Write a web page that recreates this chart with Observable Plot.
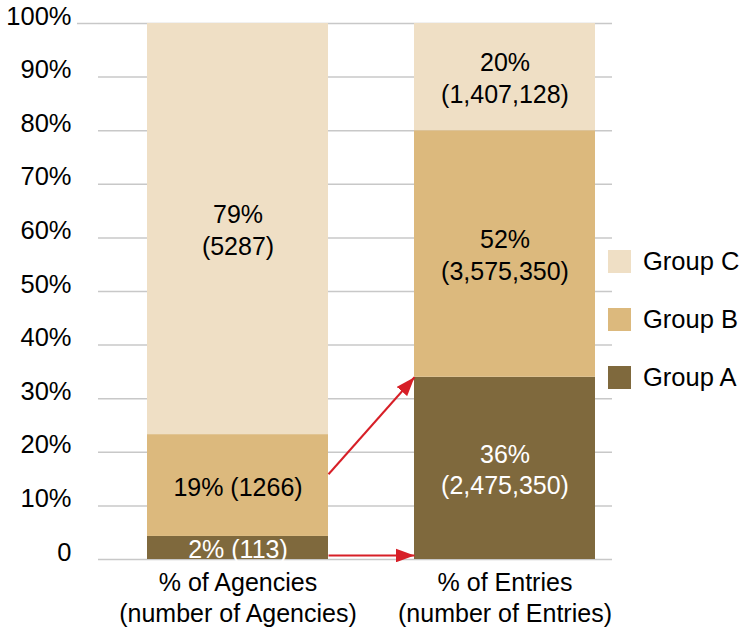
<!DOCTYPE html>
<html><head><meta charset="utf-8">
<script src="https://cdn.jsdelivr.net/npm/d3@7"></script>
<script src="https://cdn.jsdelivr.net/npm/@observablehq/plot@0.6"></script>
<style>
body{margin:0;background:#fff;}
#wrap{position:relative;width:750px;height:631px;font-family:"Liberation Sans",Arial,Helvetica,sans-serif;}
#legend{position:absolute;left:608px;top:250px;}
.item{display:flex;align-items:center;height:23px;margin-bottom:35px;font-size:25.5px;color:#000;}
.sw{width:23px;height:23px;margin-right:12px;flex:none;}
</style></head><body><div id="wrap"></div>
<script>
const measures = ["Agencies", "Entries"];
const measureLabels = ["% of Agencies\n(number of Agencies)", "% of Entries\n(number of Entries)"];
const groups = ["Group A", "Group B", "Group C"];
const colors = ["#7f693d", "#dcb97d", "#efdfc5"];
const agencyShare = [4.3, 19, 76.7];
const entryShare = [34, 46, 20];
const agencyLabels = ["2% (113)", "19% (1266)", "79%\n(5287)"];
const entryLabels = ["36%\n(2,475,350)", "52%\n(3,575,350)", "20%\n(1,407,128)"];
const yTicks = [0, 10, 20, 30, 40, 50, 60, 70, 80, 90, 100];
const yTickLabels = ["0", "10%", "20%", "30%", "40%", "50%", "60%", "70%", "80%", "90%", "100%"];
const arrowFrom = ["Agencies", "Agencies"];
const arrowTo = ["Entries", "Entries"];
const arrowY1 = [15.9, 0.75];
const arrowY2 = [34, 0.75];

const shares = [agencyShare, entryShare];
const labels = [agencyLabels, entryLabels];
const rows = measures.flatMap((m, mi) => groups.map((g, gi) => ({
  measure: m, group: g, value: shares[mi][gi], label: labels[mi][gi]
})));
const arrows = arrowFrom.map((f, i) => ({from: f, to: arrowTo[i], y1: arrowY1[i], y2: arrowY2[i]}));

function triangle(color) {
  const m = d3.create("svg:marker")
    .attr("viewBox", "-19 -7 19 14")
    .attr("markerWidth", 19).attr("markerHeight", 14)
    .attr("markerUnits", "userSpaceOnUse")
    .attr("orient", "auto").attr("refX", 0).attr("refY", 0)
    .attr("fill", color).attr("stroke", "none");
  m.append("path").attr("d", "M-19,-7L0,0L-19,7Z");
  return m.node();
}

const chart = Plot.plot({
  width: 750, height: 631,
  marginTop: 23, marginBottom: 72, marginLeft: 98, marginRight: 138,
  x: {type: "band", domain: measures, paddingInner: 0.321, paddingOuter: 0.1195, align: 0.75},
  y: {domain: [0, 100]},
  color: {domain: groups, range: colors},
  style: {fontFamily: '"Liberation Sans", Arial, Helvetica, sans-serif', fontSize: "25px", background: "white", color: "black"},
  marks: [
    Plot.ruleY(yTicks, {stroke: "#c8c8c8", strokeWidth: 1.5}),
    Plot.axisY({ticks: [100], tickSize: 21, tickFormat: () => "", stroke: "#c8c8c8", strokeWidth: 1.5, label: null}),
    Plot.axisY({ticks: yTicks, tickFormat: (d) => yTickLabels[yTicks.indexOf(d)], tickSize: 0, tickPadding: 27, dy: -7, fontSize: 25.5, label: null}),
    Plot.axisX({tickSize: 0, tickPadding: 10, tickFormat: (d) => measureLabels[measures.indexOf(d)], lineHeight: 1.22, fontSize: 25, label: null}),
    Plot.barY(rows, {x: "measure", y: "value", fill: "group"}),
    Plot.text(rows, Plot.stackY({x: "measure", y: "value", text: (d) => d.group === "Group A" ? d.label : null, fill: "white", fontSize: 25, lineHeight: 1.26})),
    Plot.text(rows, Plot.stackY({x: "measure", y: "value", text: (d) => d.group !== "Group A" ? d.label : null, fill: "black", fontSize: 25, lineHeight: 1.26})),
    Plot.link(arrows, {
      x1: "from", x2: "to", y1: "y1", y2: "y2",
      stroke: "#d71f27", strokeWidth: 2, markerEnd: triangle,
      render(index, scales, values, dimensions, context, next) {
        const x = scales.x, bw = x.bandwidth ? x.bandwidth() : 0;
        const X1 = Array.from(values.x1), X2 = Array.from(values.x2);
        for (const i of index) { X1[i] = x(arrows[i].from) + bw / 2; X2[i] = x(arrows[i].to) - bw / 2; }
        return next(index, scales, {...values, x1: X1, x2: X2}, dimensions, context);
      }
    })
  ]
});
const wrap = document.getElementById("wrap");
wrap.appendChild(chart);
const legend = document.createElement("div");
legend.id = "legend";
groups.slice().reverse().forEach((g) => {
  const item = document.createElement("div");
  item.className = "item";
  const sw = document.createElement("div");
  sw.className = "sw";
  sw.style.background = colors[groups.indexOf(g)];
  const t = document.createElement("span");
  t.textContent = g;
  item.appendChild(sw); item.appendChild(t);
  legend.appendChild(item);
});
wrap.appendChild(legend);
</script></body></html>
